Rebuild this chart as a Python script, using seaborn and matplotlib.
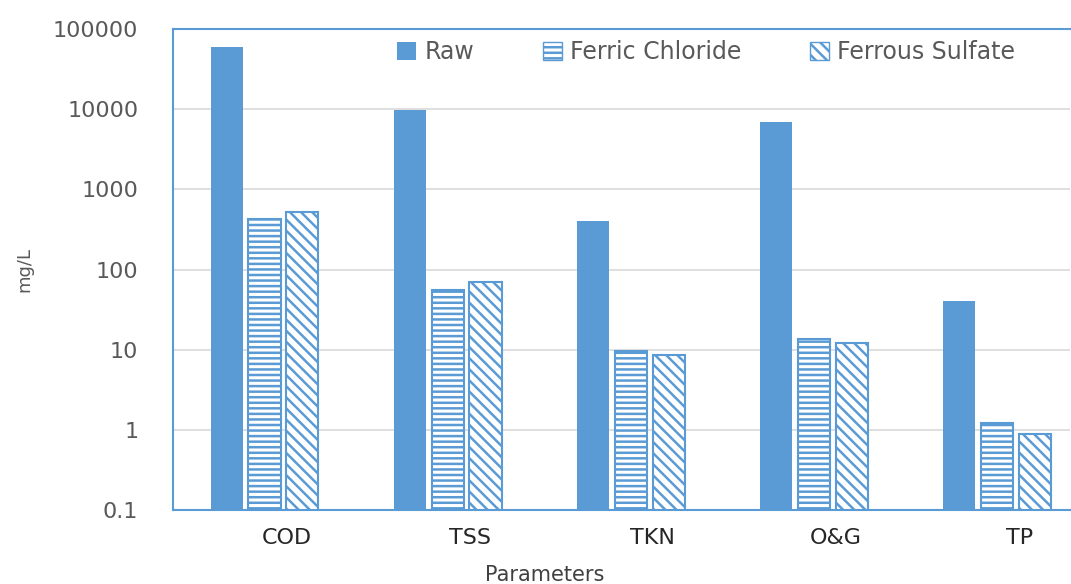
import numpy as np
import pandas as pd
import matplotlib
matplotlib.use("Agg")
import matplotlib.pyplot as plt
import seaborn as sns
from matplotlib.patches import Patch

parameters = ["COD", "TSS", "TKN", "O&G", "TP"]
treatments = ["Raw", "Ferric Chloride", "Ferrous Sulfate"]
raw = [60000, 9800, 400, 7000, 40]
ferric = [430, 56, 9.7, 13.7, 1.2]
ferrous = [520, 69, 8.5, 12, 0.88]
yticks = [0.1, 1, 10, 100, 1000, 10000, 100000]
ytick_labels = ["0.1", "1", "10", "100", "1000", "10000", "100000"]

df = pd.DataFrame({
    "Parameters": parameters * 3,
    "Treatment": [t for t in treatments for _ in parameters],
    "mg/L": raw + ferric + ferrous,
})

sns.set_style("white")
plt.rcParams["font.family"] = ["DejaVu Sans"]
plt.rcParams["hatch.linewidth"] = 1.8

blue = "#5b9bd5"
hatches = ["", "---", "\\\\\\"]

fig = plt.figure(figsize=(10.71, 5.84), dpi=100)
ax = fig.add_axes([0.1615, 0.127, 0.838, 0.823])

sns.barplot(data=df, x="Parameters", y="mg/L", hue="Treatment",
            palette=[blue] * 3, width=0.62, gap=0.15, ax=ax, legend=False,
            saturation=1)

for cont, h in zip(ax.containers, hatches):
    for bar in cont:
        if h:
            bar.set_facecolor("white")
            bar.set_hatch(h)
            bar.set_edgecolor(blue)
            bar.set_linewidth(1.5)
        else:
            bar.set_edgecolor("none")

ax.set_yscale("log")
ax.set_ylim(0.1, 100000)
ax.set_yticks(yticks)
ax.set_yticklabels(ytick_labels)
ax.minorticks_off()
ax.set_xlim(-0.5, 4.4)
ax.set_xticks(np.arange(len(parameters)) + 0.12)
ax.set_xticklabels(parameters)

ax.grid(axis="y", color="#d9d9d9", linewidth=1.2)
ax.set_axisbelow(True)
for s in ["top", "left", "bottom"]:
    ax.spines[s].set_color(blue)
    ax.spines[s].set_linewidth(1.5)
ax.spines["right"].set_visible(False)

ax.tick_params(axis="y", length=0, pad=25, labelsize=16, labelcolor="#595959")
ax.tick_params(axis="x", length=0, pad=13, labelsize=16, labelcolor="#262626")

ax.set_ylabel("mg/L", fontsize=13, color="#595959")
ax.yaxis.set_label_coords(-0.155, 0.5)
ax.set_xlabel("Parameters", fontsize=15, color="#404040")
ax.xaxis.set_label_coords(0.414, -0.115)

handles = []
for t, h in zip(treatments, hatches):
    if h:
        handles.append(Patch(facecolor="white", edgecolor=blue, hatch=h, label=t))
    else:
        handles.append(Patch(facecolor=blue, edgecolor="none", label=t))
leg = ax.legend(handles=handles, loc="center", bbox_to_anchor=(0.594, 0.952),
                ncol=3, frameon=False, fontsize=17, handlelength=0.8,
                handleheight=0.8, handletextpad=0.35, columnspacing=2.9)
for txt in leg.get_texts():
    txt.set_color("#595959")

fig.savefig("out.png", dpi=100)
